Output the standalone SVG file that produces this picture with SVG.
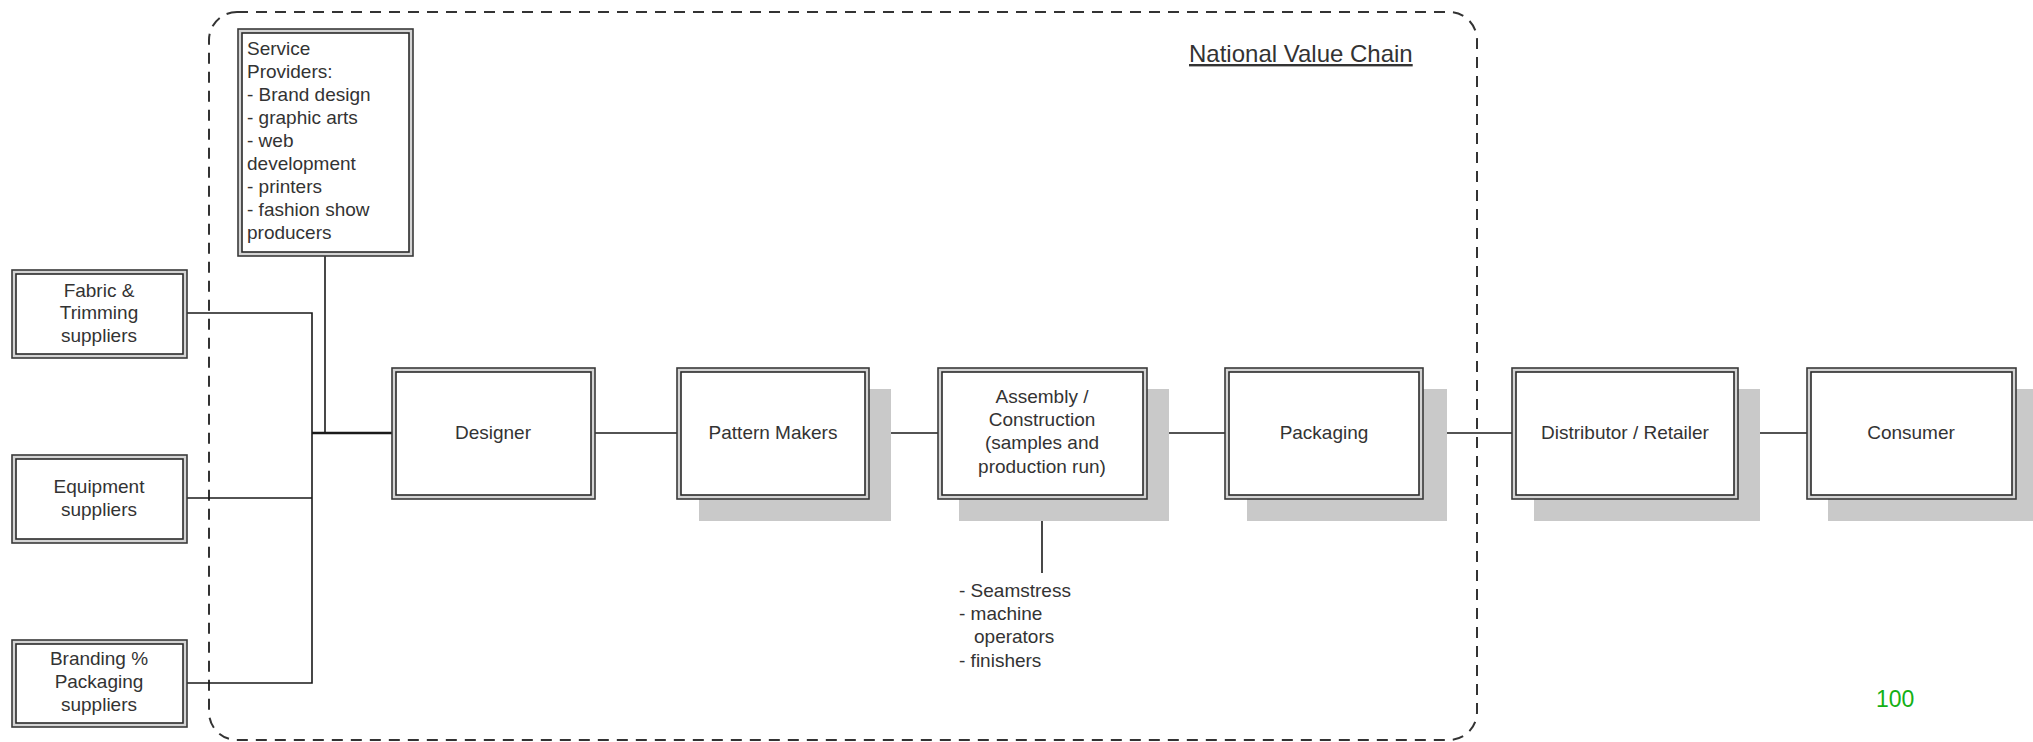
<svg xmlns="http://www.w3.org/2000/svg" width="2033" height="742" viewBox="0 0 2033 742">
<style>
.shadow{fill:#c9c9c9;stroke:none}
.outer{fill:#d4d4d4;stroke:#3a3a3a;stroke-width:1.6}
.inner{fill:#ffffff;stroke:#2a2a2a;stroke-width:1.6}
.t{font-family:"Liberation Sans",Arial,sans-serif;font-size:19px;fill:#333}
.c{text-anchor:middle}
.ln{stroke:#1a1a1a;stroke-width:1.6;fill:none}
.container{fill:none;stroke:#333;stroke-width:2;stroke-dasharray:11 8}
</style>
<rect width="2033" height="742" fill="#ffffff"/>
<g id="national-value-chain">
<rect class="container" x="209" y="12" width="1268" height="728" rx="28" ry="28"/>
<text class="t" x="1189" y="62" font-size="24" style="font-size:24px;text-decoration:underline">National Value Chain</text>
</g>
<g id="connectors">
<polyline class="ln" points="187,313 312,313 312,683 187,683"/>
<line class="ln" x1="187" y1="498" x2="312" y2="498"/>
<line class="ln" x1="325" y1="256" x2="325" y2="433"/>
<line class="ln" x1="312" y1="433" x2="392" y2="433" style="stroke-width:2.6"/>
<line class="ln" x1="595" y1="433" x2="677" y2="433"/>
<line class="ln" x1="869" y1="433" x2="938" y2="433"/>
<line class="ln" x1="1147" y1="433" x2="1225" y2="433"/>
<line class="ln" x1="1423" y1="433" x2="1512" y2="433"/>
<line class="ln" x1="1738" y1="433" x2="1807" y2="433"/>
<line class="ln" x1="1042" y1="499" x2="1042" y2="573"/>
</g>
<g id="service-providers">
<rect class="outer" x="238" y="29" width="175" height="227"/>
<rect class="inner" x="242" y="33" width="167" height="219"/>
<text class="t" x="247" y="55">Service</text>
<text class="t" x="247" y="78">Providers:</text>
<text class="t" x="247" y="101">- Brand design</text>
<text class="t" x="247" y="124">- graphic arts</text>
<text class="t" x="247" y="147">- web</text>
<text class="t" x="247" y="170">development</text>
<text class="t" x="247" y="193">- printers</text>
<text class="t" x="247" y="216">- fashion show</text>
<text class="t" x="247" y="239">producers</text>
</g>
<g id="fabric-trimming">
<rect class="outer" x="12" y="270" width="175" height="88"/>
<rect class="inner" x="16" y="274" width="167" height="80"/>
<text class="t c" x="99" y="297">Fabric &amp;</text>
<text class="t c" x="99" y="319">Trimming</text>
<text class="t c" x="99" y="342">suppliers</text>
</g>
<g id="equipment">
<rect class="outer" x="12" y="455" width="175" height="88"/>
<rect class="inner" x="16" y="459" width="167" height="80"/>
<text class="t c" x="99" y="493">Equipment</text>
<text class="t c" x="99" y="516">suppliers</text>
</g>
<g id="branding-packaging">
<rect class="outer" x="12" y="640" width="175" height="87"/>
<rect class="inner" x="16" y="644" width="167" height="79"/>
<text class="t c" x="99" y="665">Branding %</text>
<text class="t c" x="99" y="688">Packaging</text>
<text class="t c" x="99" y="711">suppliers</text>
</g>
<g id="designer">
<rect class="outer" x="392" y="368" width="203" height="131"/>
<rect class="inner" x="396" y="372" width="195" height="123"/>
<text class="t c" x="493" y="439">Designer</text>
</g>
<g id="pattern-makers">
<rect class="shadow" x="699" y="389" width="192" height="132"/>
<rect class="outer" x="677" y="368" width="192" height="131"/>
<rect class="inner" x="681" y="372" width="184" height="123"/>
<text class="t c" x="773" y="439">Pattern Makers</text>
</g>
<g id="assembly">
<rect class="shadow" x="959" y="389" width="210" height="132"/>
<rect class="outer" x="938" y="368" width="209" height="131"/>
<rect class="inner" x="942" y="372" width="201" height="123"/>
<text class="t c" x="1042" y="403">Assembly /</text>
<text class="t c" x="1042" y="426">Construction</text>
<text class="t c" x="1042" y="449">(samples and</text>
<text class="t c" x="1042" y="473">production run)</text>
</g>
<g id="workers">
<text class="t" x="959" y="597">- Seamstress</text>
<text class="t" x="959" y="620">- machine</text>
<text class="t" x="974" y="643">operators</text>
<text class="t" x="959" y="667">- finishers</text>
</g>
<g id="packaging">
<rect class="shadow" x="1247" y="389" width="200" height="132"/>
<rect class="outer" x="1225" y="368" width="198" height="131"/>
<rect class="inner" x="1229" y="372" width="190" height="123"/>
<text class="t c" x="1324" y="439">Packaging</text>
</g>
<g id="distributor-retailer">
<rect class="shadow" x="1534" y="389" width="226" height="132"/>
<rect class="outer" x="1512" y="368" width="226" height="131"/>
<rect class="inner" x="1516" y="372" width="218" height="123"/>
<text class="t c" x="1625" y="439">Distributor / Retailer</text>
</g>
<g id="consumer">
<rect class="shadow" x="1828" y="389" width="210" height="132"/>
<rect class="outer" x="1807" y="368" width="209" height="131"/>
<rect class="inner" x="1811" y="372" width="201" height="123"/>
<text class="t c" x="1911" y="439">Consumer</text>
</g>
<text x="1876" y="707" style="font-family:'Liberation Sans',Arial,sans-serif;font-size:23px;fill:#14b014">100</text>
</svg>
